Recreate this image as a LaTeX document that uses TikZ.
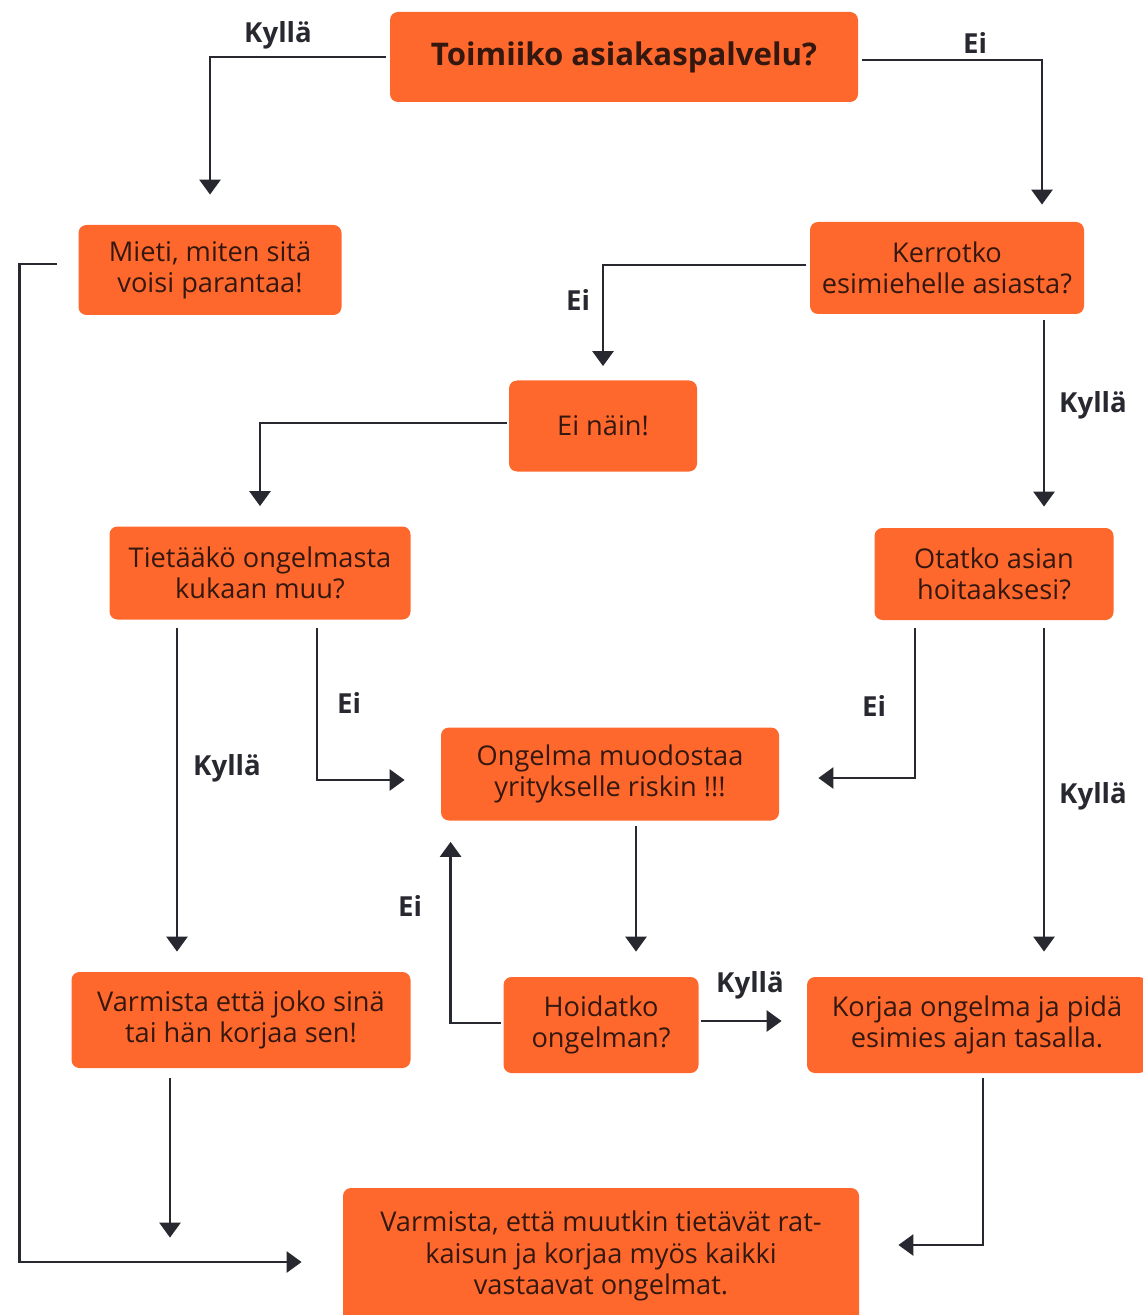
\documentclass[tikz,border=0pt]{standalone}
\usepackage{fontspec}
\setmainfont{Open Sans}
\usetikzlibrary{arrows.meta, calc}
\definecolor{kaaviooranssi}{RGB}{255, 104, 44}
\definecolor{kaavioteksti}{RGB}{52, 24, 16}
\definecolor{kaavioviiva}{RGB}{40, 40, 48}

\begin{document}
\begin{tikzpicture}[
  x=0.5pt, y=-0.5pt,
  laatikko/.style={fill=kaaviooranssi, rounded corners=4pt, align=center, inner sep=2pt, text=kaavioteksti, font=\fontsize{13.6}{15.6}\selectfont},
  selite/.style={text=kaavioviiva, font=\fontsize{13.8}{16}\selectfont\bfseries, inner sep=0pt},
  nuoli/.style={draw=kaavioviiva, line width=1.4pt, -{Triangle[length=7.5pt, width=10.5pt]}}
]
  \useasboundingbox (0,0) rectangle (1143,1315);

  \node[laatikko, minimum width=234pt, minimum height=45pt, font=\fontsize{15.6}{18}\selectfont\bfseries] (kysymys) at (624,57) {Toimiiko asiakaspalvelu?};
  \node[laatikko, minimum width=131.5pt, minimum height=45pt] (mieti) at (210,270) {Mieti, miten sitä\\voisi parantaa!};
  \node[laatikko, minimum width=137pt, minimum height=46pt] (kerro) at (947,268) {Kerrotko\\esimiehelle asiasta?};
  \node[laatikko, minimum width=94pt, minimum height=45.5pt] (einain) at (603,426) {Ei näin!};
  \node[laatikko, minimum width=150.5pt, minimum height=46.5pt] (tieta) at (260,573) {Tietääkö ongelmasta\\kukaan muu?};
  \node[laatikko, minimum width=119.5pt, minimum height=46pt] (otatko) at (994,574) {Otatko asian\\hoitaaksesi?};
  \node[laatikko, minimum width=169pt, minimum height=46.5pt] (riski) at (610,774) {Ongelma muodostaa\\yritykselle riskin !!!};
  \node[laatikko, minimum width=169.5pt, minimum height=48pt] (varm1) at (241,1020) {Varmista että joko sinä\\tai hän korjaa sen!};
  \node[laatikko, minimum width=97.5pt, minimum height=48pt] (hoida) at (601,1025) {Hoidatko\\ongelman?};
  \node[laatikko, minimum width=170pt, minimum height=48pt] (korjaa) at (977,1025) {Korjaa ongelma ja pidä\\esimies ajan tasalla.};
  \node[laatikko, minimum width=258pt, minimum height=68pt] (loppu) at (601,1256) {Varmista, että muutkin tietävät rat-\\kaisun ja korjaa myös kaikki\\vastaavat ongelmat.};

  \draw[nuoli] ([xshift=-2pt]kysymys.west) -| ([yshift=15pt]mieti.north);
  \draw[nuoli] ([xshift=2pt,yshift=-1.5pt]kysymys.east) -| ($(kerro.north)+(47.5pt,8.5pt)$);
  \draw[nuoli] ([xshift=-2pt,yshift=1.5pt]kerro.west) -| ([yshift=7pt]einain.north);
  \draw[nuoli] ($(otatko.north |- kerro.south)+(25pt,-3pt)$) -- ($(otatko.north)+(25pt,10.5pt)$);
  \draw[nuoli] ([xshift=-1pt,yshift=1.5pt]einain.west) -| ([yshift=10pt]tieta.north);
  \draw[nuoli] ($(tieta.south)+(-41.5pt,-4pt)$) -- ($(varm1.north)+(-32pt,10pt)$);
  \draw[nuoli] ($(tieta.south)+(28.5pt,-4pt)$) |- ($(riski.west)+(-18pt,-3pt)$);
  \draw[nuoli] ($(otatko.south)+(-39.5pt,-4pt)$) |- ($(riski.east)+(19.5pt,-2pt)$);
  \draw[nuoli] ($(otatko.south)+(25pt,-4pt)$) -- ($(korjaa.north)+(33.5pt,12.5pt)$);
  \draw[nuoli] ($(riski.south)+(13pt,-2.5pt)$) -- ($(hoida.north)+(17.5pt,12.5pt)$);
  \draw[nuoli] ([xshift=-1pt,yshift=1pt]hoida.west) -| ($(riski.south west)+(5pt,-10.5pt)$);
  \draw[nuoli] ([xshift=1pt,yshift=2pt]hoida.east) -- ($(korjaa.west)+(-12.5pt,2pt)$);
  \draw[nuoli] ($(varm1.south)+(-35.5pt,-5pt)$) -- ($(varm1.south |- loppu.north)+(-35.5pt,-25pt)$);
  \draw[nuoli] ($(korjaa.south)+(3pt,-2.5pt)$) |- ($(loppu.east)+(19.5pt,5.5pt)$);
  \draw[nuoli] ($(mieti.west)+(-10.5pt,3pt)$) -- ++(-19pt,0) |- ($(loppu.west)+(-20.5pt,-3pt)$);

  \node[selite] (k1) at (278,35) {Kyllä};
  \node[selite] (e1) at (975,43) {Ei};
  \node[selite] (e2) at (578,300) {Ei};
  \node[selite] (k2) at (1093,405) {Kyllä};
  \node[selite] (e3) at (349,703) {Ei};
  \node[selite] (k3) at (227,768) {Kyllä};
  \node[selite] (e4) at (874,706) {Ei};
  \node[selite] (k4) at (1093,796) {Kyllä};
  \node[selite] (e5) at (410,906) {Ei};
  \node[selite] (k5) at (750,985) {Kyllä};
\end{tikzpicture}
\end{document}
